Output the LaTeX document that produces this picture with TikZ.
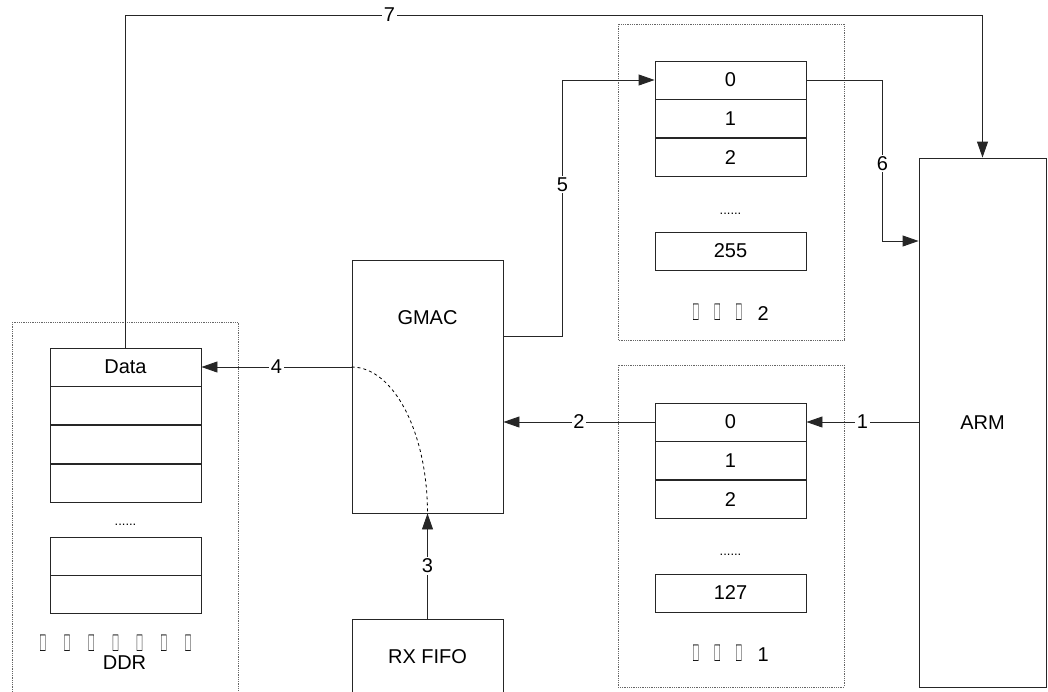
\documentclass[tikz,border=0pt]{standalone}
\usepackage{graphicx}
\usepackage{fontspec}
\setmainfont{Liberation Sans}
\usetikzlibrary{arrows.meta, calc, positioning}
\newcommand{\leerzeichen}[1]{\makebox[#1]{\scalebox{0.5}[1.2]{\XeTeXglyph0\relax}}}

\begin{document}
\begin{tikzpicture}[
    x=1pt, y=-1pt,
    every node/.style={font=\fontsize{20}{24}\selectfont},
    blockbox/.style={draw=black!85, line width=0.9pt, fill=white, inner sep=0pt},
    zelle/.style={blockbox, minimum width=151pt, minimum height=38pt},
    rahmen/.style={draw=black!60, densely dotted, line width=0.8pt},
    pfeil/.style={draw=black!85, line width=0.9pt, -{Triangle[length=16pt, width=11pt]}},
    nummer/.style={fill=white, inner sep=1.5pt},
  ]
  \clip (0,0) rectangle (1048,691);

  % Rahmen
  \draw[rahmen] (12,322) rectangle (238,720);
  \draw[rahmen] (618,24) rectangle (844,340);
  \draw[rahmen] (618,365) rectangle (844,687);

  % Bausteine
  \node[blockbox, minimum width=151pt, minimum height=253pt] (gmac) at (427.5,386.5) {};
  \node (gmactext) at (427.5,318) {GMAC};
  \node[blockbox, minimum width=127pt, minimum height=529pt] (arm) at (982.5,422.5) {ARM};
  \node[blockbox, minimum width=151pt, minimum height=76pt] (rxfifo) at (427.5,657) {RX FIFO};

  % DDR
  \node[zelle] (data) at (125.5,367) {Data};
  \node[zelle, below=0pt of data] (ddr1) {};
  \node[zelle, below=0pt of ddr1] (ddr2) {};
  \node[zelle, below=0pt of ddr2] (ddr3) {};
  \node[anchor=base, font=\fontsize{13}{14}\selectfont] (ddrdots) at (125.5,525) {......};
  \node[zelle] (ddr4) at (125.5,556) {};
  \node[zelle, below=0pt of ddr4] (ddr5) {};
  \node (ddrtofu) at (115.5,643) {\leerzeichen{24.2pt}\leerzeichen{24.2pt}\leerzeichen{24.2pt}\leerzeichen{24.2pt}\leerzeichen{24.2pt}\leerzeichen{24.2pt}\leerzeichen{24.2pt}};
  \node (ddrname) at (124.5,663) {DDR};

  % Tabelle 2
  \node[zelle] (t2r0) at (730.5,80) {0};
  \node[zelle, below=0pt of t2r0] (t2r1) {1};
  \node[zelle, below=0pt of t2r1] (t2r2) {2};
  \node[anchor=base, font=\fontsize{13}{14}\selectfont] (t2dots) at (730.5,214) {......};
  \node[zelle] (t2r255) at (730.5,251) {255};
  \node (t2name) at (727,312) {\leerzeichen{21.5pt}\leerzeichen{21.5pt}\leerzeichen{21.5pt}\hspace{8pt}2};

  % Tabelle 1
  \node[zelle] (t1r0) at (730.5,422) {0};
  \node[zelle, below=0pt of t1r0] (t1r1) {1};
  \node[zelle, below=0pt of t1r1] (t1r2) {2};
  \node[anchor=base, font=\fontsize{13}{14}\selectfont] (t1dots) at (730.5,555) {......};
  \node[zelle] (t1r127) at (730.5,593) {127};
  \node (t1name) at (727,653) {\leerzeichen{21.5pt}\leerzeichen{21.5pt}\leerzeichen{21.5pt}\hspace{8pt}1};

  % Ablauf
  \coordinate (oben) at (0,15);
  \draw[pfeil] (arm.west |- t1r0.east) -- node[nummer]{1} (t1r0.east);
  \draw[pfeil] (t1r0.west) -- node[nummer]{2} (t1r0.west -| gmac.east);
  \draw[pfeil] (rxfifo.north) -- node[nummer]{3} (gmac.south);
  \draw[pfeil] (data.east -| gmac.west) -- node[nummer]{4} (data.east);
  \draw[dashed, line width=0.8pt] (data.east -| gmac.west) .. controls +(42,0) and +(0,-81) .. (gmac.south);
  \draw[pfeil] ([yshift=50.5pt]gmac.east) -- ++(59,0) -- node[nummer, pos=0.59]{5} ++(0,-256) -- (t2r0.west);
  \draw[pfeil] (t2r0.east) -- ++(76,0) |- node[nummer, pos=0.26]{6} ([yshift=181.5pt]arm.west);
  \draw[pfeil] (data.north) |- node[nummer, pos=0.654]{7} (arm.north |- oben) -- (arm.north);
\end{tikzpicture}
\end{document}
